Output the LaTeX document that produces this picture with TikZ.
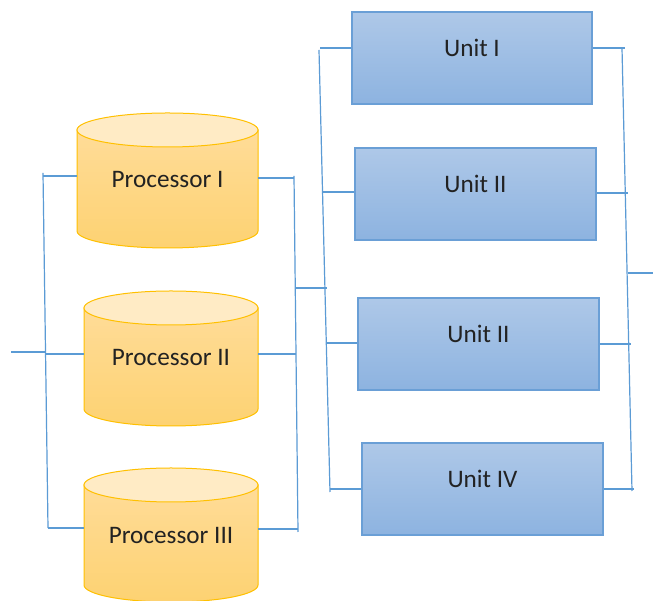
\documentclass[tikz,border=0pt]{standalone}
\usepackage{fontspec}
\setmainfont{Carlito}

\definecolor{wireblue}{HTML}{5B9BD5}
\definecolor{cyltop}{HTML}{FFDC98}
\definecolor{cylbot}{HTML}{FDD272}
\definecolor{cylcap}{HTML}{FFEBC5}
\definecolor{cyledge}{HTML}{FFC000}
\definecolor{unittop}{HTML}{AEC8E8}
\definecolor{unitbot}{HTML}{8DB3E0}
\definecolor{unitedge}{HTML}{6A9FD6}
\definecolor{labeltext}{HTML}{222222}

% cylinder: centre x, x radius, top ellipse y, bottom ellipse y, y radius
\newcommand\procdrum[5]{%
  \shade[top color=cyltop, bottom color=cylbot, draw=cyledge, line width=1pt]
    (#1-#2,#3) -- (#1-#2,#4)
    arc[start angle=180, end angle=360, x radius=#2pt, y radius=#5pt]
    -- (#1+#2,#3) -- cycle;
  \filldraw[fill=cylcap, draw=cyledge, line width=1pt]
    (#1,#3) ellipse[x radius=#2pt, y radius=#5pt];
}

\begin{document}
\begin{tikzpicture}[x=1pt, y=1pt,
  wire/.style={draw=wireblue, line width=1.2pt},
  proc/.style={rectangle, inner sep=0pt, minimum height=120pt,
    text=labeltext, font=\fontsize{25.2}{30}\selectfont,
    text height=16pt, text depth=0pt},
  unitbox/.style={rectangle, draw=unitedge, line width=1.4pt,
    top color=unittop, bottom color=unitbot, inner sep=0pt,
    minimum width=241pt, minimum height=92pt,
    text=labeltext, font=\fontsize{25.2}{30}\selectfont,
    text height=16pt, text depth=18pt}]

\useasboundingbox (0,0) rectangle (653,601);
\fill[white] (0,0) rectangle (653,601);

% processor drums
\procdrum{167.5}{90.5}{471}{370}{17}
\procdrum{171}{87}{293}{192}{17}
\procdrum{171}{87}{116}{16}{17}

\node[proc, minimum width=181pt] (p1) at (167.5,421) {Processor I};
\node[proc, minimum width=174pt] (p2) at (171,243) {Processor II};
\node[proc, minimum width=174pt] (p3) at (171,65) {Processor III};

% units
\node[unitbox, minimum width=240pt] (u1) at (472,543) {Unit I};
\node[unitbox] (u2) at (475.5,407) {Unit II};
\node[unitbox] (u3) at (478.5,257) {Unit II};
\node[unitbox] (u4) at (482.5,112) {Unit IV};

% junction points of the bus lines
\coordinate (inL) at (11,249);
\coordinate (inR) at (45.5,249);
\coordinate (lbT) at (43,428);
\coordinate (lbB) at (48,73);
\coordinate (lb1) at (43,425);
\coordinate (lb2) at (46,247);
\coordinate (lb3) at (48,73);

\coordinate (mbT) at (294,425);
\coordinate (mbB) at (298,69);
\coordinate (mb1) at (294,423);
\coordinate (mb2) at (296,247);
\coordinate (mb3) at (298,72);
\coordinate (mbo) at (295,313);
\coordinate (ubi) at (327,313);

\coordinate (ubT) at (319,551);
\coordinate (ubB) at (330,109);
\coordinate (ub1) at (320,553);
\coordinate (ub2) at (322,409);
\coordinate (ub3) at (327,258);
\coordinate (ub4) at (330,112);

\coordinate (rbT) at (622,553);
\coordinate (rbB) at (632,110);
\coordinate (rb1) at (625,553);
\coordinate (rb2) at (628,408);
\coordinate (rb3) at (631,257);
\coordinate (rb4) at (634,112);
\coordinate (outL) at (628,328);
\coordinate (outR) at (653,328);

% input side
\draw[wire] (inL) -- (inR);
\draw[wire] (lbT) -- (lbB);
\draw[wire] (lb1) -- ([yshift=4pt]p1.west);
\draw[wire] (lb2) -- ([yshift=4pt]p2.west);
\draw[wire] (lb3) -- ([yshift=8pt]p3.west);

% processors to units
\draw[wire] ([yshift=2pt]p1.east) -- (mb1);
\draw[wire] ([yshift=4pt]p2.east) -- (mb2);
\draw[wire] ([yshift=7pt]p3.east) -- (mb3);
\draw[wire] (mbT) -- (mbB);
\draw[wire] (mbo) -- (ubi);
\draw[wire] (ubT) -- (ubB);
\draw[wire] (ub1) -- ([yshift=10pt]u1.west);
\draw[wire] (ub2) -- ([yshift=2pt]u2.west);
\draw[wire] (ub3) -- ([yshift=1pt]u3.west);
\draw[wire] (ub4) -- (u4.west);

% output side
\draw[wire] ([yshift=10pt]u1.east) -- (rb1);
\draw[wire] ([yshift=1pt]u2.east) -- (rb2);
\draw[wire] (u3.east) -- (rb3);
\draw[wire] (u4.east) -- (rb4);
\draw[wire] (rbT) -- (rbB);
\draw[wire] (outL) -- (outR);

\end{tikzpicture}
\end{document}
